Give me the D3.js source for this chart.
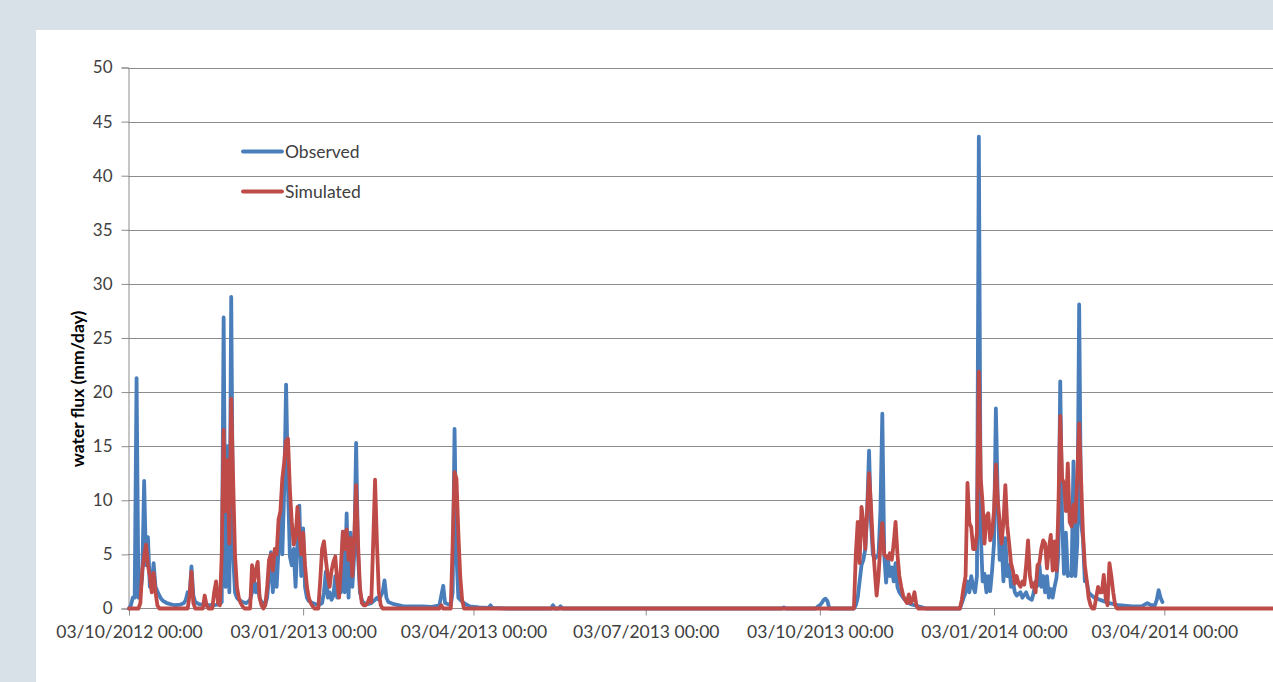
<!DOCTYPE html>
<html>
<head>
<meta charset="utf-8">
<script src="https://cdn.jsdelivr.net/npm/d3@7.9.0/dist/d3.min.js"></script>
<style>
  body { margin: 0; background: #d7e1e7; }
  svg { display: block; font-family: Lato, "Open Sans", sans-serif; }
</style>
</head>
<body>
<svg id="chart" width="1273" height="682"></svg>
<script>
// days since 03/10/2012, value in mm/day
const startDate = '2012-10-03';
const observed = [
  [0,0],[1,0.3],[2,1],[3,1],[4,21.3],[5,1],[6,1.5],[7,3],[8,11.8],[9,4],[10,6.6],[11,2],[12,2.2],[13,4.2],[14,2],[15,1.6],[16,1.2],[17,0.9],[18,0.7],[19,0.6],[20,0.5],[24,0.3],[27,0.35],[29,0.5],[30,0.8],[31,1.5],[32,1.2],[33,3.9],[34,1.2],[35,0.6],[37,0.4],[40,0.3],[45,0.3],[48,0.4],[49,0.6],
  [50,26.9],[51,2],[52,15],[53,1.5],[54,28.8],[55,5],[56,1.5],[57,1],[58,0.8],[60,0.6],[62,0.5],[64,0.8],[65,1.5],[66,2.6],[67,1.5],[68,2.3],[69,1],[70,0.6],[72,0.4],[73,1],[74,3],[75,5.2],[76,1.5],[77,5],[78,2],[79,5.5],[80,8.8],[81,5],[82,11],[83,20.7],[84,11.2],[85,4.8],[86,4],[87,5.5],[88,2],[89,6],[90,9.5],[91,3],[92,7.4],[93,2],[94,1],[95,0.7],[97,0.5],[100,0.3],
  [102,0.5],[103,1.5],[104,3.4],[105,1],[106,1.5],[107,0.8],[108,1.2],[109,3],[110,1],[111,2.5],[112,1.5],[113,7.1],[114,1.5],[115,8.8],[116,1],[117,7],[118,2],[119,5],[120,15.3],[121,5],[122,1.5],[123,0.8],[124,0.5],[126,0.4],[128,0.5],[130,0.8],[131,1],[132,0.8],[134,1.5],[135,2.6],[136,1],[137,0.6],[140,0.4],[145,0.2],[155,0.2],[160,0.15],[164,0.3],[166,2.1],[167,0.5],[170,0.3],[171,1.5],[172,16.6],[173,5],[174,1],[175,0.8],[177,0.5],[180,0.2],[185,0.1],[190,0.05],[191,0.3],[192,0.05],[200,0],
  [223,0],[224,0.3],[225,0],[227,0],[228,0.2],[229,0],[345,0],[346,0.1],[347,0],[363,0],[364,0.2],[365,0.3],[366,0.5],[367,0.8],[368,0.9],[369,0.7],[370,0],
  [383,0],[384,0.3],[385,1],[386,2.5],[387,4],[388,4.5],[389,5.5],[390,9],[391,14.6],[392,8],[393,5],[394,4.6],[395,4.8],[396,5],[397,9],[398,18],[399,5],[400,2.4],[401,4.5],[402,3],[403,3.8],[404,2.5],[405,4.2],[406,2],[407,1.5],[409,1],[411,0.6],[413,0.4],[415,0.3],[417,0.2],[419,0.1],[421,0],
  [439,0],[440,0.5],[441,1],[442,1.5],[443,2.5],[444,1.5],[445,3],[446,2],[447,1.5],[448,3],[449,43.6],[450,7],[451,2.5],[452,3.2],[453,1.5],[454,3],[455,1.6],[456,3.5],[457,6],[458,18.5],[459,10],[460,4.5],[461,6.5],[462,2.5],[463,6.5],[464,3],[465,4],[466,2],[467,2.5],[468,1.5],[469,1.2],[471,1.5],[472,1],[474,1.5],[475,1],[477,0.8],[478,1.5],[479,2.5],[480,2.1],[481,4],[482,2],[483,3],[484,1.5],[485,3],[486,1],[487,1.8],[488,1],[489,2],[490,2.8],
  [491,5],[492,21],[493,8],[494,3.2],[495,7],[496,3],[497,3.2],[498,3],[499,13.6],[500,3],[501,6],[502,28.1],[503,8],[504,6.5],[505,2.5],[506,2.5],[507,1.5],[508,1.3],[510,1],[513,0.8],[518,0.5],[523,0.3],[530,0.2],[535,0.2],[538,0.5],[540,0.3],[542,0.3],[543,0.8],[544,1.7],[545,1],[546,0.6]
];
const simulated = [
  [0,0],[5,0],[6,0.5],[7,3.5],[8,4.8],[9,5.9],[10,4],[11,3],[12,1.5],[13,3.3],[14,1.5],[15,0.3],[16,0],[31,0],[32,1.2],[33,3.4],[34,0.5],[35,0],[39,0],[40,1.2],[41,0.3],[42,0],[44,0],[45,1.5],[46,2.5],[47,0.5],[48,0.3],
  [49,5],[50,16.5],[51,9],[52,13.7],[53,6],[54,19.4],[55,12],[56,5],[57,2],[58,1],[59,0.5],[60,0.2],[61,0],[64,0],[65,4],[66,2.5],[67,3.5],[68,4.3],[69,1],[70,0.3],[71,0],[72,0.3],[73,2],[74,4.5],[75,5],[76,3.5],[77,5.5],[78,5],[79,8.2],[80,9],[81,12],[82,13.5],[83,15.5],[84,15.7],[85,11],[86,8],[87,5.9],[88,6.5],[89,9.4],[90,7],[91,5],[92,7],[93,4],[94,2],[95,1],[96,0.5],[97,0.2],[98,0],
  [100,0],[101,2.5],[102,5.5],[103,6.2],[104,4.5],[105,3],[106,2],[107,3.5],[108,4.3],[109,4.8],[110,2.5],[111,1],[112,4],[113,7.1],[114,5.5],[115,7.3],[116,4.5],[117,6.5],[118,3],[119,6.4],[120,11.4],[121,6],[122,2],[123,0.5],[124,0.3],[125,0.3],[126,0.5],[127,1],[128,0.6],[129,6],[130,11.9],[131,6],[132,1.5],[133,0.3],[134,0],
  [164,0],[165,0.3],[166,0],[170,0],[171,6],[172,12.6],[173,12],[174,7],[175,3],[176,0.8],[177,0],
  [383,0],[384,5],[385,8],[386,4.2],[387,9.4],[388,8],[389,5.5],[390,9],[391,12.5],[392,9.5],[393,6],[394,3.5],[395,1.2],[396,3],[397,6],[398,7.9],[399,5],[400,4.8],[401,4.6],[402,5.1],[403,4.5],[404,6],[405,8],[406,5],[407,3],[408,2],[409,1.2],[410,0.8],[411,0.5],[412,1.3],[413,0.5],[414,0.8],[415,1.5],[416,0.3],[417,0],
  [439,0],[440,0.8],[441,2],[442,3],[443,11.6],[444,7.9],[445,7.5],[446,5.5],[447,5.5],[448,7],[449,21.9],[450,12],[451,9.7],[452,6],[453,8.5],[454,8.8],[455,6.3],[456,7],[457,9],[458,13.3],[459,10],[460,8],[461,6],[462,8],[463,11.4],[464,7.7],[465,6],[466,4.2],[467,3.5],[468,2.3],[469,3],[470,2.3],[471,2],[472,2.5],[473,2.2],[474,4],[475,6.3],[476,3],[477,2],[478,2.3],[479,1.5],[480,4],
  [481,4.2],[482,5.5],[483,6.3],[484,6],[485,3.7],[486,5.5],[487,6.8],[488,3.5],[489,6.2],[490,3.5],[491,9],[492,17.8],[493,12],[494,11.6],[495,9],[496,13.4],[497,8],[498,7.6],[499,9.6],[500,8],[501,12.3],[502,17.1],[503,12],[504,7],[505,4],[506,2.6],[507,1],[508,0.3],[509,0],[510,0],[511,1],[512,2],[513,1.5],[514,1.5],[515,3.1],[516,1],[517,0.3],[518,4.2],[519,3],[520,1.5],[521,0.3],[522,0],[610,0]
];
const yTicks = [0, 5, 10, 15, 20, 25, 30, 35, 40, 45, 50];
const xTicks = ['2012-10-03', '2013-01-03', '2013-04-03', '2013-07-03', '2013-10-03', '2014-01-03', '2014-04-03'];
const seriesNames = ['Observed', 'Simulated'];
const seriesColors = ['#4a7ebb', '#be4b48'];

const W = 1273, H = 682;
const parse = d3.utcParse('%Y-%m-%d');
const fmt = d3.utcFormat('%d/%m/%Y %H:%M');
const t0 = parse(startDate);
const toDate = (d) => d3.utcDay.offset(t0, d);

const svg = d3.select('#chart');

svg.append('rect').attr('width', W).attr('height', H).attr('fill', '#d7e1e7');
svg.append('rect').attr('x', 36).attr('y', 30).attr('width', W - 36).attr('height', H - 30).attr('fill', '#ffffff');

const x = d3.scaleUtc()
    .domain([t0, toDate(606)])
    .range([129, 1276]);
const y = d3.scaleLinear()
    .domain([0, 50])
    .range([608.5, 67.5]);

// gridlines
svg.append('g')
    .selectAll('line')
    .data(yTicks.filter((d) => d > 0))
    .join('line')
    .attr('x1', 128).attr('x2', W)
    .attr('y1', (d) => Math.round(y(d)) + 0.5)
    .attr('y2', (d) => Math.round(y(d)) + 0.5)
    .attr('stroke', '#8c8c8c')
    .attr('stroke-width', 1);

// y axis
const yAxis = svg.append('g')
    .attr('transform', 'translate(128.5,0)')
    .call(d3.axisLeft(y).tickValues(yTicks).tickSize(7).tickPadding(9));
yAxis.select('.domain').attr('stroke', '#8c8c8c');
yAxis.selectAll('.tick line').attr('stroke', '#8c8c8c');
yAxis.selectAll('.tick text')
    .attr('fill', '#404040')
    .style('font-size', '17px')
    .style('font-family', 'Lato, sans-serif');

// x axis
const xAxis = svg.append('g')
    .attr('transform', 'translate(0,608.5)')
    .call(d3.axisBottom(x)
        .tickValues(xTicks.map(parse))
        .tickFormat(fmt)
        .tickSize(7)
        .tickPadding(10));
xAxis.select('.domain').attr('stroke', '#8c8c8c').attr('d', `M128.5,0H${W}`);
xAxis.selectAll('.tick line').attr('stroke', '#8c8c8c');
xAxis.selectAll('.tick text')
    .attr('fill', '#404040')
    .style('font-size', '17.5px')
    .style('font-family', 'Lato, sans-serif');

// y label
svg.append('text')
    .attr('transform', 'translate(84,389) rotate(-90)')
    .attr('text-anchor', 'middle')
    .attr('fill', '#000')
    .style('font-size', '17.5px')
    .style('font-weight', 'bold')
    .style('font-family', 'Lato, sans-serif')
    .text('water flux (mm/day)');

// lines
svg.append('clipPath').attr('id', 'plot-clip')
    .append('rect').attr('x', 120).attr('y', 40).attr('width', W - 120).attr('height', 580);

const line = d3.line()
    .x((d) => x(toDate(d[0])))
    .y((d) => y(d[1]))
    .curve(d3.curveLinear);

[observed, simulated].forEach((series, i) => {
    svg.append('path')
        .datum(series)
        .attr('clip-path', 'url(#plot-clip)')
        .attr('d', line)
        .attr('fill', 'none')
        .attr('stroke', seriesColors[i])
        .attr('stroke-width', 3.8)
        .attr('stroke-linejoin', 'round')
        .attr('stroke-linecap', 'round');
});

// legend
const legend = svg.append('g');
seriesNames.forEach((name, i) => {
    const ly = 151.5 + i * 40;
    legend.append('line')
        .attr('x1', 243).attr('x2', 282)
        .attr('y1', ly).attr('y2', ly)
        .attr('stroke', seriesColors[i])
        .attr('stroke-width', 3.8)
        .attr('stroke-linecap', 'round');
    legend.append('text')
        .attr('x', 285).attr('y', ly)
        .attr('dy', '0.35em')
        .attr('fill', '#404040')
        .style('font-size', '17.5px')
        .style('font-family', 'Lato, sans-serif')
        .text(name);
});
</script>
</body>
</html>
